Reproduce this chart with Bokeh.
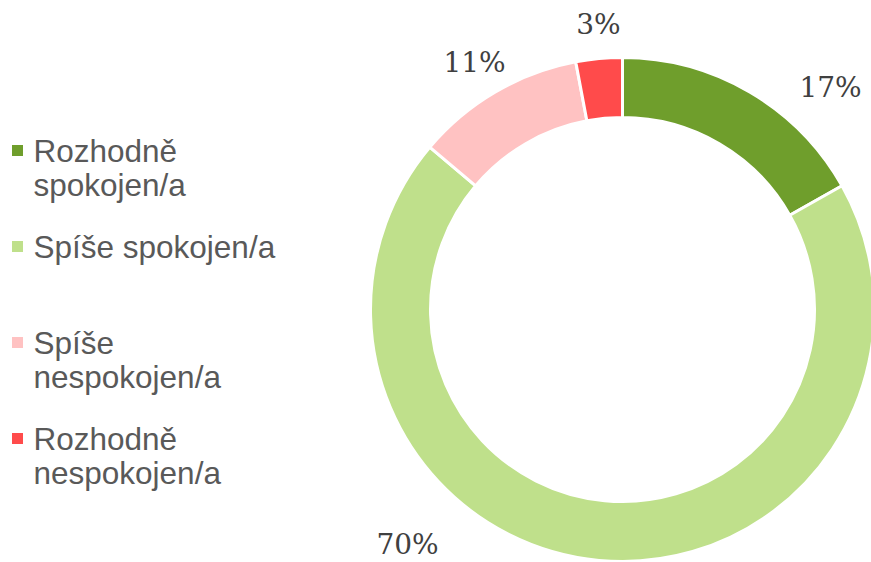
import math
from bokeh.plotting import figure
from bokeh.models import Range1d, ColumnDataSource
from bokeh.core.properties import value
from bokeh.embed import file_html
from bokeh.resources import INLINE

# ---- data ----
categories = ["Rozhodně spokojen/a", "Spíše spokojen/a", "Spíše nespokojen/a", "Rozhodně nespokojen/a"]
legend_lines = [["Rozhodně", "spokojen/a"], ["Spíše spokojen/a"], ["Spíše", "nespokojen/a"], ["Rozhodně", "nespokojen/a"]]
values = [17, 70, 11, 3]
pct_labels = ["17%", "70%", "11%", "3%"]
colors = ["#6F9E2C", "#BFE08B", "#FFC2C2", "#FF4B4B"]

# ---- layout (reference pixel coordinates; data y = H - pixel y) ----
W, H = 871, 562
def Y(py):
    return H - py

cx, cy = 622, 309
r_out, r_in = 252, 192
label_offsets = [(208, -222), (-215, 235), (-148, -247), (-24, -285)]

p = figure(width=W, height=H, output_backend="svg", toolbar_location=None,
           x_range=Range1d(0, W), y_range=Range1d(0, H),
           min_border=0, border_fill_color="white", background_fill_color="white")
p.axis.visible = False
p.grid.visible = False
p.outline_line_color = None

total = float(sum(values))
cum = [0.0]
for v in values:
    cum.append(cum[-1] + v / total)
starts = [math.pi / 2 - cum[i + 1] * 2 * math.pi for i in range(len(values))]
ends = [math.pi / 2 - cum[i] * 2 * math.pi for i in range(len(values))]

src = ColumnDataSource(dict(start=starts, end=ends, color=colors, cat=categories))
p.annular_wedge(x=cx, y=Y(cy), inner_radius=r_in, outer_radius=r_out,
                start_angle="start", end_angle="end", fill_color="color",
                line_color="white", line_width=3, source=src)

# percentage labels
lx = [cx + dx for dx, dy in label_offsets]
ly = [Y(cy + dy) for dx, dy in label_offsets]
p.text(x=lx, y=ly, text=pct_labels, text_font=value("DejaVu Serif"), text_font_size="28px",
       text_color="#404040", text_align="center", text_baseline="middle")

# legend
leg_y0, leg_step = 150, 96
line_h = 34
mx, tx = 17, 33
mk_x, mk_y, mk_c = [], [], []
t_x, t_y, t_t = [], [], []
for i, lines in enumerate(legend_lines):
    yc = leg_y0 + i * leg_step
    mk_x.append(mx)
    mk_y.append(Y(yc))
    mk_c.append(colors[i])
    for j, ln in enumerate(lines):
        t_x.append(tx)
        t_y.append(Y(yc + j * line_h))
        t_t.append(ln)
p.scatter(x=mk_x, y=mk_y, marker="square", size=11, fill_color=mk_c, line_color=None)
p.text(x=t_x, y=t_y, text=t_t, text_font=value("Liberation Sans"), text_font_size="31.5px",
       text_color="#595959", text_align="left", text_baseline="middle")

open("out.html", "w").write(file_html(p, INLINE))
